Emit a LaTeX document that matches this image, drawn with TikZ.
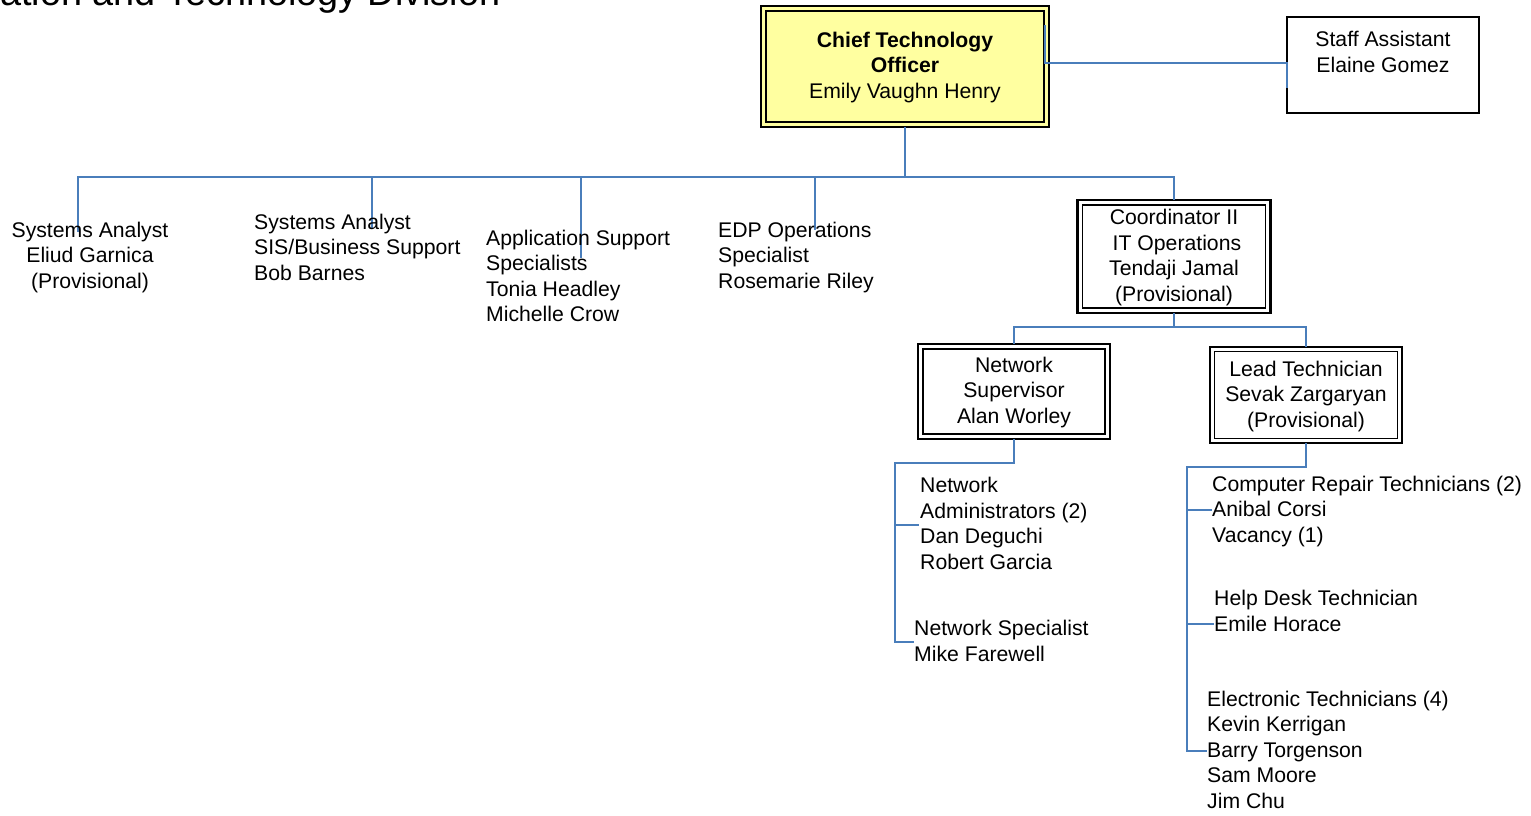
\documentclass[tikz,border=0pt]{standalone}
\usepackage{fontspec}
\setmainfont{Liberation Sans}
\definecolor{lineblue}{RGB}{74,126,187}
\definecolor{ctoyellow}{RGB}{255,255,160}
\begin{document}
\begin{tikzpicture}[x=1pt,y=-1pt,
  conn/.style={draw=lineblue, line width=2pt},
  txt/.style={inner sep=0pt, font=\fontsize{21.2}{25.5}\selectfont},
  obox/.style={draw=black, line width=2.2pt, inner sep=0pt, outer sep=0pt},
  ibox/.style={draw=black, line width=1.4pt, inner sep=0pt, outer sep=0pt},
  sbox/.style={draw=black, line width=1.8pt, inner sep=0pt, outer sep=0pt}]
\useasboundingbox (0,0) rectangle (1531,815);

% title (cut at the top)
\node[inner sep=0pt, anchor=base west, font=\fontsize{37.8}{42}\selectfont] (title) at (0,5) {ation and Technology Division};

% boxes
\node[obox, fill=ctoyellow, minimum width=288pt, minimum height=121pt] (cto) at (905,66.5) {};
\node[ibox, minimum width=278pt, minimum height=111pt] (ctoin) at (cto.center) {};
\node[sbox, minimum width=192pt, minimum height=96pt] (staff) at (1383,65) {};
\node[obox, minimum width=193pt, minimum height=113pt] (coord) at (1174,256.5) {};
\node[ibox, minimum width=183pt, minimum height=103pt] (coordin) at (coord.center) {};
\node[obox, minimum width=192pt, minimum height=95pt] (netsup) at (1014,391.5) {};
\node[ibox, minimum width=182pt, minimum height=85pt] (netsupin) at (netsup.center) {};
\node[obox, minimum width=192pt, minimum height=96pt] (lead) at (1306,395) {};
\node[ibox, minimum width=183pt, minimum height=87pt] (leadin) at (lead.center) {};

% connector end points
\coordinate (hub) at (905,177);
\coordinate (e1) at (78,232);
\coordinate (e2) at (372,228);
\coordinate (e3) at (581,258);
\coordinate (e4) at (815,230);
\coordinate (s1) at (1045,25);
\coordinate (sa) at (1287,63);
\coordinate (s2) at (1287,88);
\coordinate (hub2) at (1174,327);
\coordinate (h3) at (895,463);
\coordinate (na) at (919,525);
\coordinate (ns) at (914,642);
\coordinate (h4) at (1187,467);
\coordinate (crt) at (1212,510);
\coordinate (hd) at (1214,624);
\coordinate (et) at (1207,751);

% connectors
\draw[conn, line width=2.8pt] (cto.south) -- (hub);
\draw[conn, line width=2.6pt] (e1) |- (hub);
\draw[conn] (hub) -| (coord.north);
\draw[conn] (e2) -- (e2 |- hub);
\draw[conn] (e3) -- (e3 |- hub);
\draw[conn] (e4) -- (e4 |- hub);
\draw[conn] (s1) |- (sa) -- (s2);
\draw[conn] (coord.south) -- (hub2);
\draw[conn] (netsup.north) |- (hub2) -| (lead.north);
\draw[conn] (netsup.south) |- (h3) |- (ns);
\draw[conn] (h3 |- na) -- (na);
\draw[conn] (lead.south) |- (h4) |- (et);
\draw[conn] (h4 |- crt) -- (crt);
\draw[conn] (h4 |- hd) -- (hd);

% texts (base anchor = baseline of the last line)
\node[txt, anchor=base, align=center] (ctot) at (905,98) {\textbf{Chief Technology}\\\textbf{Officer}\\Emily Vaughn Henry};
\node[txt, anchor=base, align=center] (stafft) at (1383,72) {Staff Assistant\\Elaine Gomez};
\node[txt, anchor=base, align=center] (sa1) at (90,288) {Systems Analyst\\Eliud Garnica\\(Provisional)};
\node[txt, anchor=base west, align=left] (sa2) at (254,280) {Systems Analyst\\SIS/Business Support\\Bob Barnes};
\node[txt, anchor=base west, align=left] (aps) at (486,321.5) {Application Support\\Specialists\\Tonia Headley\\Michelle Crow};
\node[txt, anchor=base west, align=left] (edp) at (718,288) {EDP Operations\\Specialist\\Rosemarie Riley};
\node[txt, anchor=base, align=center] (coordt) at (1174,301) {Coordinator II\\\ IT Operations\\Tendaji Jamal\\(Provisional)};
\node[txt, anchor=base, align=center] (netsupt) at (1014,423) {Network\\Supervisor\\Alan Worley};
\node[txt, anchor=base, align=center] (leadt) at (1306,427) {Lead Technician\\Sevak Zargaryan\\(Provisional)};
\node[txt, anchor=base west, align=left] (nadm) at (920,569) {Network\\Administrators (2)\\Dan Deguchi\\Robert Garcia};
\node[txt, anchor=base west, align=left] (nspec) at (914,661) {Network Specialist\\Mike Farewell};
\node[txt, anchor=base west, align=left] (crtt) at (1212,542) {Computer Repair Technicians (2)\\Anibal Corsi\\Vacancy (1)};
\node[txt, anchor=base west, align=left] (hdt) at (1214,631) {Help Desk Technician\\Emile Horace};
\node[txt, anchor=base west, align=left] (ett) at (1207,808) {Electronic Technicians (4)\\Kevin Kerrigan\\Barry Torgenson\\Sam Moore\\Jim Chu};
\end{tikzpicture}
\end{document}
